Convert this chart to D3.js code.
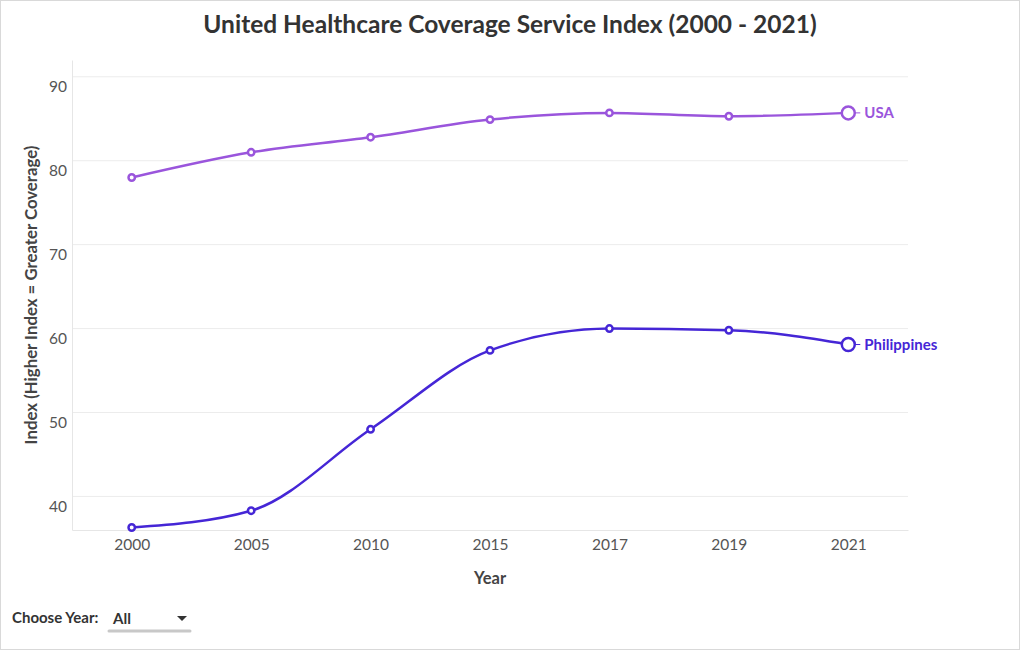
<!DOCTYPE html>
<html>
<head>
<meta charset="utf-8">
<script src="https://cdn.jsdelivr.net/npm/d3@7"></script>
<style>
  body { margin: 0; background: #fff; }
  svg { display: block; }
</style>
</head>
<body>
<div id="container"></div>
<script>
const years = ['2000', '2005', '2010', '2015', '2017', '2019', '2021']
const usaValues = [78.0, 81.0, 82.8, 84.9, 85.7, 85.3, 85.7]
const phValues = [36.3, 38.3, 48.0, 57.4, 60.0, 59.8, 58.1]
const yTicks = [40, 50, 60, 70, 80, 90]

const series = [
  { name: 'USA', values: usaValues, color: '#9a55dc' },
  { name: 'Philippines', values: phValues, color: '#4526d6' }
]

const width = 1020
const height = 650
const margins = { top: 60, right: 112, bottom: 120, left: 72 }
const font = 'Lato, sans-serif'

const svg = d3.select('#container')
  .append('svg')
  .attr('width', width)
  .attr('height', height)

// outer frame
svg.append('rect')
  .attr('x', 0.5).attr('y', 0.5)
  .attr('width', width - 1).attr('height', height - 1)
  .attr('fill', '#fff')
  .attr('stroke', '#d9d9d9')

const x = d3.scalePoint()
  .domain(years)
  .range([margins.left, width - margins.right])
  .padding(0.5)

const y = d3.scaleLinear()
  .domain([36, 92])
  .range([height - margins.bottom, margins.top])

// grid
svg.append('g')
  .selectAll('line')
  .data(yTicks)
  .join('line')
  .attr('x1', margins.left)
  .attr('x2', width - margins.right)
  .attr('y1', d => y(d))
  .attr('y2', d => y(d))
  .style('stroke', '#ececec')

// axes
const yAxis = svg.append('g')
  .attr('transform', `translate(${margins.left},0)`)
  .call(d3.axisLeft(y).tickValues(yTicks).tickSize(0).tickPadding(5))
yAxis.select('.domain').style('stroke', '#e6e6e6')
// labels sit just under their grid line
yAxis.selectAll('.tick text').attr('dy', '0.95em')

const xAxis = svg.append('g')
  .attr('transform', `translate(0,${height - margins.bottom})`)
  .call(d3.axisBottom(x).tickSize(0).tickPadding(9))
xAxis.select('.domain').style('stroke', '#e6e6e6')

svg.selectAll('.tick text')
  .style('font-family', font)
  .style('font-size', '15.5px')
  .style('fill', '#555')

// lines
const line = d3.line()
  .x((d, i) => x(years[i]))
  .y(d => y(d))
  .curve(d3.curveMonotoneX)

const g = svg.append('g')
  .selectAll('g')
  .data(series)
  .join('g')

g.append('path')
  .attr('d', d => line(d.values))
  .style('fill', 'none')
  .style('stroke', d => d.color)
  .style('stroke-width', 2.5)

g.selectAll('circle')
  .data(d => d.values.map((v, i) => ({ v, i, color: d.color })))
  .join('circle')
  .attr('cx', d => x(years[d.i]))
  .attr('cy', d => y(d.v))
  .attr('r', d => d.i === years.length - 1 ? 6.5 : 3.2)
  .style('fill', '#fff')
  .style('stroke', d => d.color)
  .style('stroke-width', 2.5)

const last = years.length - 1
g.append('line')
  .attr('x1', d => x(years[last]) + 7)
  .attr('x2', d => x(years[last]) + 12)
  .attr('y1', d => y(d.values[last]))
  .attr('y2', d => y(d.values[last]))
  .style('stroke', d => d.color)
  .style('stroke-width', 1)

g.append('text')
  .attr('x', d => x(years[last]) + 16)
  .attr('y', d => y(d.values[last]))
  .attr('dy', '0.35em')
  .text(d => d.name)
  .style('font-family', font)
  .style('font-size', '15px')
  .style('font-weight', 'bold')
  .style('fill', d => d.color)

// titles
svg.append('text')
  .attr('x', width / 2)
  .attr('y', 33)
  .attr('text-anchor', 'middle')
  .text('United Healthcare Coverage Service Index (2000 - 2021)')
  .style('font-family', font)
  .style('font-size', '24.5px')
  .style('font-weight', 'bold')
  .style('fill', '#333')

svg.append('text')
  .attr('x', (margins.left + width - margins.right) / 2)
  .attr('y', 584)
  .attr('text-anchor', 'middle')
  .text('Year')
  .style('font-family', font)
  .style('font-size', '16.5px')
  .style('font-weight', 'bold')
  .style('fill', '#444')

svg.append('text')
  .attr('transform', `translate(37,${(margins.top + height - margins.bottom) / 2}) rotate(-90)`)
  .attr('text-anchor', 'middle')
  .text('Index (Higher Index = Greater Coverage)')
  .style('font-family', font)
  .style('font-size', '16.8px')
  .style('font-weight', 'bold')
  .style('fill', '#444')

// year selector
const sel = svg.append('g')
sel.append('text')
  .attr('x', 12).attr('y', 623)
  .text('Choose Year:')
  .style('font-family', font)
  .style('font-size', '15px')
  .style('font-weight', 'bold')
  .style('fill', '#333')
sel.append('text')
  .attr('x', 113).attr('y', 624)
  .text('All')
  .style('font-family', font)
  .style('font-size', '15px')
  .style('font-weight', 'bold')
  .style('fill', '#333')
sel.append('path')
  .attr('d', 'M177,616 L187,616 L182,621 Z')
  .style('fill', '#333')
sel.append('line')
  .attr('x1', 109).attr('x2', 190)
  .attr('y1', 631).attr('y2', 631)
  .style('stroke', '#c8c8c8')
  .style('stroke-width', 3)
  .style('stroke-linecap', 'round')
</script>
</body>
</html>
